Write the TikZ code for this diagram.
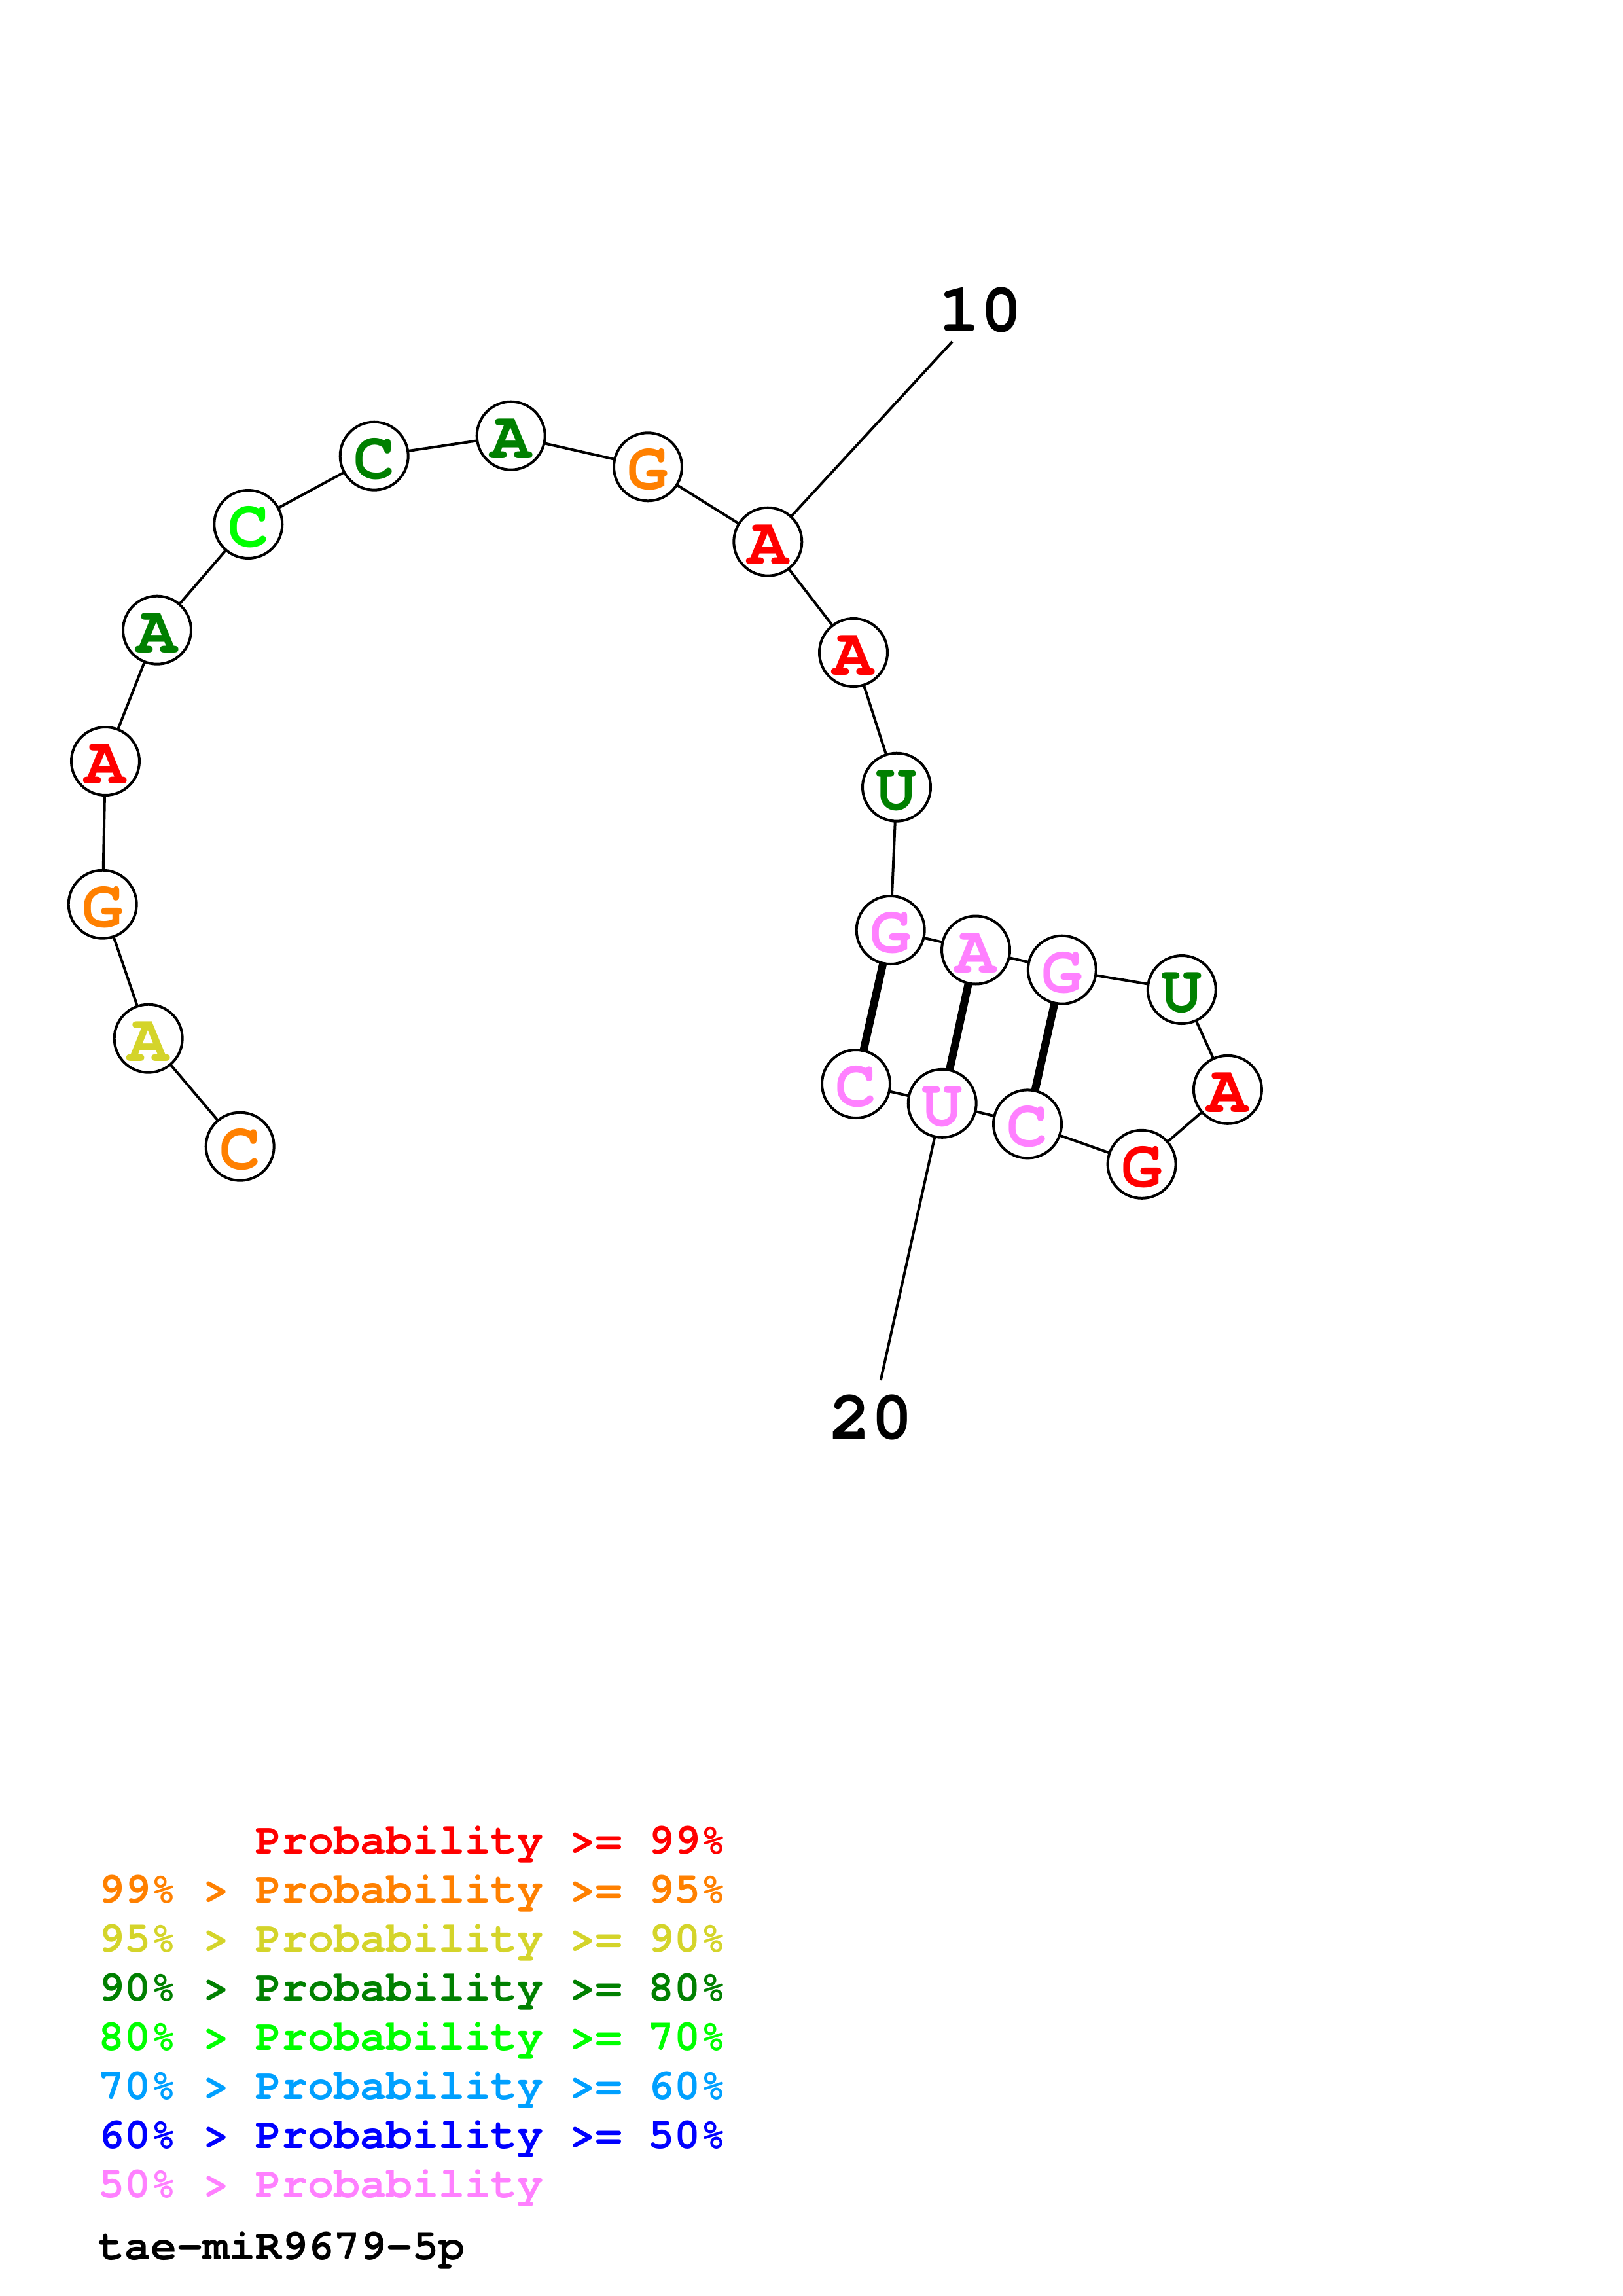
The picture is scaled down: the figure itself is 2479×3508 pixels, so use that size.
\documentclass[tikz,border=0pt]{standalone}
\usepackage{fontspec}
\setmonofont{texgyrecursor}[Extension=.otf,UprightFont=*-regular,BoldFont=*-bold]
\definecolor{pr}{RGB}{255,0,0}
\definecolor{po}{RGB}{255,128,0}
\definecolor{py}{RGB}{212,212,42}
\definecolor{pg}{RGB}{0,128,0}
\definecolor{pl}{RGB}{0,255,0}
\definecolor{pc}{RGB}{0,160,255}
\definecolor{pb}{RGB}{0,0,255}
\definecolor{pp}{RGB}{255,128,255}
\begin{document}
\begin{tikzpicture}[x=1pt,y=-1pt,
  nt/.style={circle,draw=black,line width=4pt,fill=white,minimum size=104pt,inner sep=0pt,
    text height=69pt,text depth=0pt,
    font={\ttfamily\bfseries\fontsize{104pt}{110pt}\selectfont}},
  bb/.style={line width=4pt},
  pairline/.style={line width=12pt},
  numlab/.style={inner sep=0pt,font={\ttfamily\bfseries\fontsize{106pt}{110pt}\selectfont}},
  leg/.style={anchor=base west,inner sep=0pt,font={\ttfamily\bfseries\fontsize{66.7pt}{70pt}\selectfont}}]
\useasboundingbox (0,0) rectangle (2479,3508);
\fill[white] (0,0) rectangle (2479,3508);
\path
  (366.7,1751.7) coordinate (p1)
  (226.7,1586.7) coordinate (p2)
  (156.7,1381.7) coordinate (p3)
  (161,1163) coordinate (p4)
  (240,962.7) coordinate (p5)
  (379.3,801) coordinate (p6)
  (571.7,696.7) coordinate (p7)
  (780.7,665.7) coordinate (p8)
  (990,713.3) coordinate (p9)
  (1173.3,827.7) coordinate (p10)
  (1304,997) coordinate (p11)
  (1370,1202.7) coordinate (p12)
  (1360.7,1421) coordinate (p13)
  (1491,1451.5) coordinate (p14)
  (1622.8,1481.7) coordinate (p15)
  (1805.8,1512) coordinate (p16)
  (1875.9,1664.8) coordinate (p17)
  (1744.6,1778.8) coordinate (p18)
  (1570,1717.4) coordinate (p19)
  (1439.7,1685.8) coordinate (p20)
  (1308,1656) coordinate (p21);
\coordinate (l10) at (1455,522);
\coordinate (l20) at (1345.7,2109);
\draw[bb] (p1)--(p2)--(p3)--(p4)--(p5)--(p6)--(p7)--(p8)--(p9)--(p10)--(p11)--(p12)--(p13)--(p14)--(p15)--(p16)--(p17)--(p18)--(p19)--(p20)--(p21);
\draw[pairline] (p13)--(p21);
\draw[pairline] (p14)--(p20);
\draw[pairline] (p15)--(p19);
\draw[bb] (p10)--(l10);
\draw[bb] (p20)--(l20);
% nucleotide nodes
\node[nt,text=po] (n1) at (p1) {C};
\node[nt,text=py] (n2) at (p2) {A};
\node[nt,text=po] (n3) at (p3) {G};
\node[nt,text=pr] (n4) at (p4) {A};
\node[nt,text=pg] (n5) at (p5) {A};
\node[nt,text=pl] (n6) at (p6) {C};
\node[nt,text=pg] (n7) at (p7) {C};
\node[nt,text=pg] (n8) at (p8) {A};
\node[nt,text=po] (n9) at (p9) {G};
\node[nt,text=pr] (n10) at (p10) {A};
\node[nt,text=pr] (n11) at (p11) {A};
\node[nt,text=pg] (n12) at (p12) {U};
\node[nt,text=pp] (n13) at (p13) {G};
\node[nt,text=pp] (n14) at (p14) {A};
\node[nt,text=pp] (n15) at (p15) {G};
\node[nt,text=pg] (n16) at (p16) {U};
\node[nt,text=pr] (n17) at (p17) {A};
\node[nt,text=pr] (n18) at (p18) {G};
\node[nt,text=pp] (n19) at (p19) {C};
\node[nt,text=pp] (n20) at (p20) {U};
\node[nt,text=pp] (n21) at (p21) {C};
% number labels
\node[numlab] (t10) at (1498,473.5) {10};
\node[numlab] (t20) at (1331.5,2165.6) {20};
% legend
\node[leg,text=pr] (g1) at (390,2832) {Probability >= 99\%};
\node[leg,text=po] (g2) at (150,2907) {99\% > Probability >= 95\%};
\node[leg,text=py] (g3) at (150,2982) {95\% > Probability >= 90\%};
\node[leg,text=pg] (g4) at (150,3057) {90\% > Probability >= 80\%};
\node[leg,text=pl] (g5) at (150,3132) {80\% > Probability >= 70\%};
\node[leg,text=pc] (g6) at (150,3207) {70\% > Probability >= 60\%};
\node[leg,text=pb] (g7) at (150,3282) {60\% > Probability >= 50\%};
\node[leg,text=pp] (g8) at (150,3357) {50\% > Probability};
\node[leg,text=black] (title) at (150,3452) {tae-miR9679-5p};
\end{tikzpicture}
\end{document}
